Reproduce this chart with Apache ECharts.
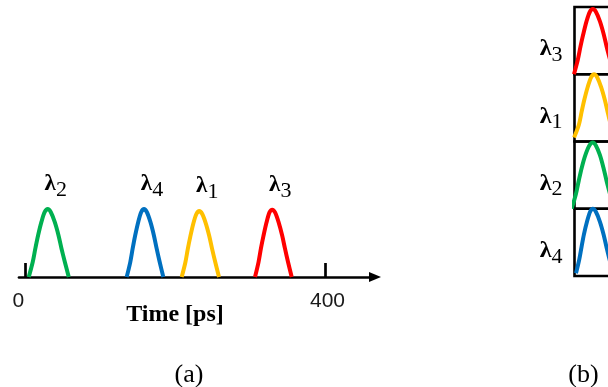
<!DOCTYPE html>
<html>
<head>
<meta charset="utf-8">
<script src="https://cdn.jsdelivr.net/npm/echarts@6/dist/echarts.min.js"></script>
<style>
  html, body { margin: 0; padding: 0; background: #fff; }
  #chart { width: 608px; height: 387px; }
</style>
</head>
<body>
<div id="chart"></div>
<script>
// ---- panel (a): pulse train on a common time axis [ps] ----
const timeTicks = [0, 400];
const subsA = ['2', '4', '1', '3'];
const colorsA = ['#00B050', '#0070C0', '#FFC000', '#FF0000'];
const pulseA2 = [[4.6,0],[9.9,0.22],[13.4,0.42],[17,0.61],[21.5,0.81],[25.9,0.956],[29.9,1.0],[33.9,0.956],[39.2,0.81],[44.2,0.615],[48.2,0.42],[52.6,0.224],[57.9,0]];
const pulseA4 = [[135.1,0],[139.9,0.22],[143.1,0.42],[146.4,0.61],[150.5,0.81],[154.5,0.956],[158.2,1.0],[161.9,0.956],[166.7,0.81],[171.3,0.615],[175,0.42],[179,0.224],[183.9,0]];
const pulseA1 = [[208.4,0],[213.2,0.21],[216.5,0.41],[219.8,0.59],[224,0.79],[228.1,0.93],[231.8,0.97],[235.6,0.93],[240.5,0.79],[245.2,0.6],[249,0.41],[253.1,0.22],[258.1,0]];
const pulseA3 = [[306.1,0],[310.8,0.22],[314,0.42],[317.3,0.6],[321.4,0.8],[325.4,0.95],[329.1,0.99],[332.8,0.95],[337.7,0.8],[342.3,0.61],[346,0.42],[350.1,0.22],[355,0]];

// ---- panel (b): one box per wavelength, top to bottom ----
const subsB = ['3', '1', '2', '4'];
const colorsB = ['#FF0000', '#FFC000', '#00B050', '#0070C0'];
const pulseB3 = [[-0.7,0],[4.3,0.21],[7.9,0.41],[11.5,0.59],[16,0.79],[20.4,0.93],[24.3,0.97],[28.3,0.93],[33.6,0.79],[38.6,0.6],[42.6,0.41],[47,0.22],[52.3,0]];
const pulseB1 = [[-0.5,0.06],[5.8,0.25],[9.4,0.44],[13,0.62],[17.5,0.81],[22,0.955],[26,1.0],[30,0.955],[35.3,0.81],[40.3,0.615],[44.3,0.42],[48.7,0.22],[54,0]];
const pulseB2 = [[-3.8,0],[1.9,0.22],[5.7,0.42],[9.6,0.61],[14.5,0.8],[19.7,0.94],[24.3,0.985],[28.3,0.94],[33.6,0.8],[38.6,0.6],[42.6,0.41],[47,0.22],[52.3,0]];
const pulseB4 = [[2,0.04],[6.2,0.24],[9.3,0.43],[12.5,0.62],[16.6,0.81],[20.7,0.956],[24.3,1.0],[28.3,0.956],[33.6,0.81],[38.6,0.615],[42.6,0.42],[47,0.22],[52.3,0]];
const labelPos = 0.33;

const serif = 'Liberation Serif, Times New Roman, serif';
const sans = 'Liberation Sans, Arial, sans-serif';

// λ with a lowered subscript: both tokens get the same total height,
// the padding moves the digit down relative to the letter.
const lambdaRich = (size, sub, drop) => ({
  l: { fontFamily: serif, fontWeight: 'bold', fontSize: size, color: '#000', lineHeight: size, padding: [0, 0, drop, 0] },
  s: { fontFamily: serif, fontSize: sub, color: '#000', lineHeight: size, padding: [drop, 0, 0, 0] }
});

const pulsesA = [pulseA2, pulseA4, pulseA1, pulseA3];
const pulsesB = [pulseB3, pulseB1, pulseB2, pulseB4];

const grids = [
  { left: 19, top: 209, width: 356, height: 68, outerBoundsMode: 'none', containLabel: false }
];
const xAxes = [{
  type: 'value', gridIndex: 0, min: -8.4, max: 466,
  splitLine: { show: false },
  axisLine: { show: true, lineStyle: { color: '#000', width: 2.7 }, symbol: ['none', 'triangle'], symbolSize: [10, 12] },
  axisTick: { show: true, inside: true, length: 14, customValues: timeTicks, lineStyle: { color: '#000', width: 2.7 } },
  axisLabel: {
    show: true, customValues: timeTicks, margin: 14,
    fontFamily: sans, fontSize: 21, color: '#1a1a1a',
    formatter: (v) => (v === 0 ? '{z|0}' : '{f|' + v + '}'),
    rich: {
      z: { fontFamily: sans, fontSize: 21, color: '#1a1a1a', padding: [0, 14, 0, 0] },
      f: { fontFamily: sans, fontSize: 21, color: '#1a1a1a', padding: [0, 0, 0, 4] }
    }
  }
}];
const yAxes = [{ type: 'value', gridIndex: 0, min: 0, max: 1, show: false }];
const series = [];

pulsesA.forEach((pts, i) => {
  let peak = 0;
  pts.forEach((p, k) => { if (p[1] > pts[peak][1]) peak = k; });
  series.push({
    type: 'line', xAxisIndex: 0, yAxisIndex: 0, smooth: 0.3, showSymbol: true, symbol: 'circle', symbolSize: 0,
    clip: false, silent: true,
    lineStyle: { color: colorsA[i], width: 4, join: 'round' },
    data: pts.map((p, k) => k === peak ? {
      value: p,
      label: {
        show: true, position: 'top', distance: 10, offset: [8, 0],
        formatter: '{l|λ}{s|' + subsA[i] + '}', rich: lambdaRich(23, 22, 6)
      }
    } : p)
  });
});

const boxTop = 7, boxH = 67.25;
pulsesB.forEach((pts, i) => {
  const gi = i + 1;
  grids.push({
    left: 574.5, top: boxTop + i * boxH, width: 80, height: boxH,
    show: true, borderColor: '#000', borderWidth: 2.6, backgroundColor: 'transparent',
    outerBoundsMode: 'none', containLabel: false
  });
  xAxes.push({ type: 'value', gridIndex: gi, min: 0, max: 106, show: false });
  yAxes.push({
    type: 'value', gridIndex: gi, min: 0, max: 1,
    splitLine: { show: false }, axisLine: { show: false }, axisTick: { show: false },
    axisLabel: {
      show: true, customValues: [labelPos], margin: 12,
      formatter: () => '{l|λ}{s|' + subsB[i] + '}', rich: lambdaRich(24, 22, 6)
    }
  });
  series.push({
    type: 'line', xAxisIndex: gi, yAxisIndex: gi, smooth: 0.3, showSymbol: false, clip: false, silent: true,
    lineStyle: { color: colorsB[i], width: 4, join: 'round' },
    data: pts
  });
});

const chart = echarts.init(document.getElementById('chart'), null, { renderer: 'canvas' });
chart.setOption({
  animation: false,
  backgroundColor: '#fff',
  grid: grids,
  xAxis: xAxes,
  yAxis: yAxes,
  series: series,
  graphic: [
    { type: 'text', x: 175, y: 315, style: { text: 'Time [ps]', fontFamily: serif, fontWeight: 'bold', fontSize: 24, fill: '#000', align: 'center', verticalAlign: 'middle' } },
    { type: 'text', x: 189, y: 375, style: { text: '(a)', fontFamily: serif, fontSize: 26, fill: '#000', align: 'center', verticalAlign: 'middle' } },
    { type: 'text', x: 583.5, y: 375, style: { text: '(b)', fontFamily: serif, fontSize: 26, fill: '#000', align: 'center', verticalAlign: 'middle' } }
  ]
});
</script>
</body>
</html>
